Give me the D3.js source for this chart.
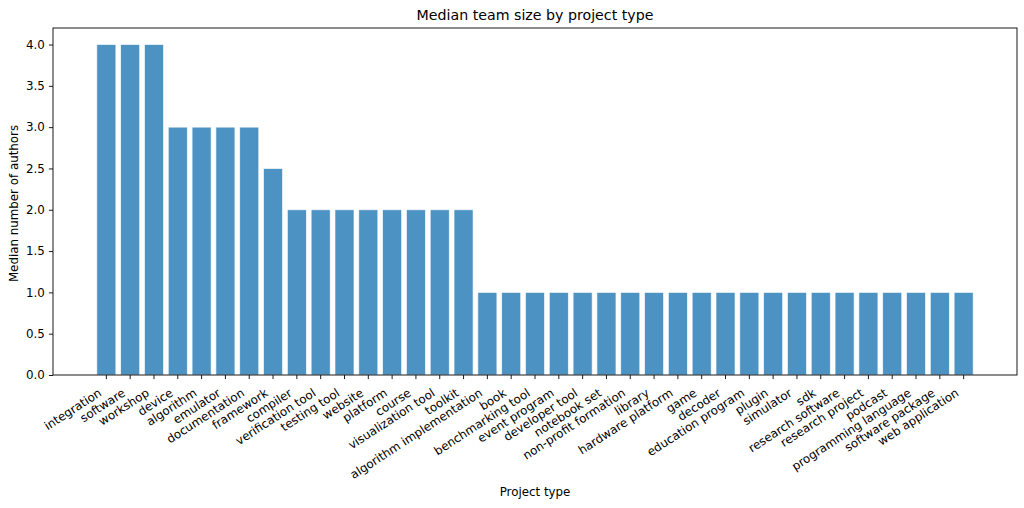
<!DOCTYPE html>
<html>
<head>
<meta charset="utf-8">
<script src="https://cdn.jsdelivr.net/npm/d3@7"></script>
<style>
    body { margin: 0; background: #fff; }
    svg { display: block; font-family: "DejaVu Sans", sans-serif; }
</style>
</head>
<body>
<svg id="chart" width="1024" height="508"></svg>
<script>
var projectTypes = ["integration", "software", "workshop", "device", "algorithm", "emulator",
    "documentation", "framework", "compiler", "verification tool", "testing tool", "website",
    "platform", "course", "visualization tool", "toolkit", "algorithm implementation", "book",
    "benchmarking tool", "event program", "developer tool", "notebook set", "non-profit formation",
    "library", "hardware platform", "game", "decoder", "education program", "plugin", "simulator",
    "sdk", "research software", "research project", "podcast", "programming language",
    "software package", "web application"];
var medianAuthors = [4, 4, 4, 3, 3, 3, 3, 2.5, 2, 2, 2, 2, 2, 2, 2, 2,
    1, 1, 1, 1, 1, 1, 1, 1, 1, 1, 1, 1, 1, 1, 1, 1, 1, 1, 1, 1, 1];
var yTicks = [0, 0.5, 1, 1.5, 2, 2.5, 3, 3.5, 4];

// plot box (window.top is reserved, so no plain "top")
var plotLeft = 53, plotRight = 1017, plotTop = 28, plotBottom = 375;
var fontSize = 11.85;
var tickLen = 4.1, tickPad = 4.1;

var svg = d3.select("#chart");

// band scale: 0.8 bar width, matplotlib-like margins
var x = d3.scaleBand().domain(projectTypes).range([plotLeft, plotRight])
    .paddingInner(0.2).paddingOuter(1.84);
var y = d3.scaleLinear().domain([0, 4.2]).range([plotBottom, plotTop]);

svg.append("g").selectAll("rect").data(medianAuthors).enter().append("rect")
    .attr("x", function (d, i) { return x(projectTypes[i]); })
    .attr("y", function (d) { return y(d); })
    .attr("width", x.bandwidth())
    .attr("height", function (d) { return y(0) - y(d); })
    .attr("fill", "#1f77b4")
    .attr("fill-opacity", 0.8)
    .attr("stroke", "#ffffff")
    .attr("stroke-opacity", 0.8)
    .attr("stroke-width", 0.8);

// y axis
var yAxis = svg.append("g").attr("transform", "translate(" + plotLeft + ",0)")
    .call(d3.axisLeft(y).tickValues(yTicks).tickFormat(d3.format(".1f"))
        .tickSizeInner(tickLen).tickSizeOuter(0).tickPadding(tickPad));
yAxis.select(".domain").remove();
yAxis.selectAll("line").attr("stroke", "#000").attr("stroke-width", 0.9);
yAxis.selectAll("text").attr("font-size", fontSize).attr("fill", "#000")
    .attr("font-family", "DejaVu Sans");

// x axis
var xAxis = svg.append("g").attr("transform", "translate(0," + plotBottom + ")")
    .call(d3.axisBottom(x).tickSizeInner(tickLen).tickSizeOuter(0).tickPadding(tickPad));
xAxis.select(".domain").remove();
xAxis.selectAll("line").attr("stroke", "#000").attr("stroke-width", 0.9);
// rotated labels, right end hanging just left of / below the tick
var asc = 0.76 * fontSize, desc = 0.24 * fontSize;
xAxis.selectAll("text")
    .attr("font-size", fontSize).attr("fill", "#000").attr("font-family", "DejaVu Sans")
    .attr("text-anchor", "end")
    .attr("dy", null)
    .attr("y", null)
    .attr("transform", "translate(-4,20) rotate(-33)");

// frame
svg.append("rect").attr("x", plotLeft).attr("y", plotTop)
    .attr("width", plotRight - plotLeft).attr("height", plotBottom - plotTop)
    .attr("fill", "none").attr("stroke", "#000").attr("stroke-width", 0.9);

// title and labels
svg.append("text").attr("x", (plotLeft + plotRight) / 2).attr("y", plotTop - 8)
    .attr("text-anchor", "middle").attr("font-size", 14.2).attr("fill", "#000")
    .text("Median team size by project type");

var tickBox = xAxis.node().getBBox();
svg.append("text").attr("x", (plotLeft + plotRight) / 2)
    .attr("y", plotBottom + tickBox.y + tickBox.height + 5 + asc)
    .attr("text-anchor", "middle").attr("font-size", fontSize).attr("fill", "#000")
    .text("Project type");

var yBox = yAxis.node().getBBox();
svg.append("text")
    .attr("transform", "translate(" + (plotLeft + yBox.x - 4.7 - desc) + "," + ((plotTop + plotBottom) / 2 + 2) + ") rotate(-90)")
    .attr("text-anchor", "middle").attr("font-size", fontSize).attr("fill", "#000")
    .text("Median number of authors");
</script>
</body>
</html>
